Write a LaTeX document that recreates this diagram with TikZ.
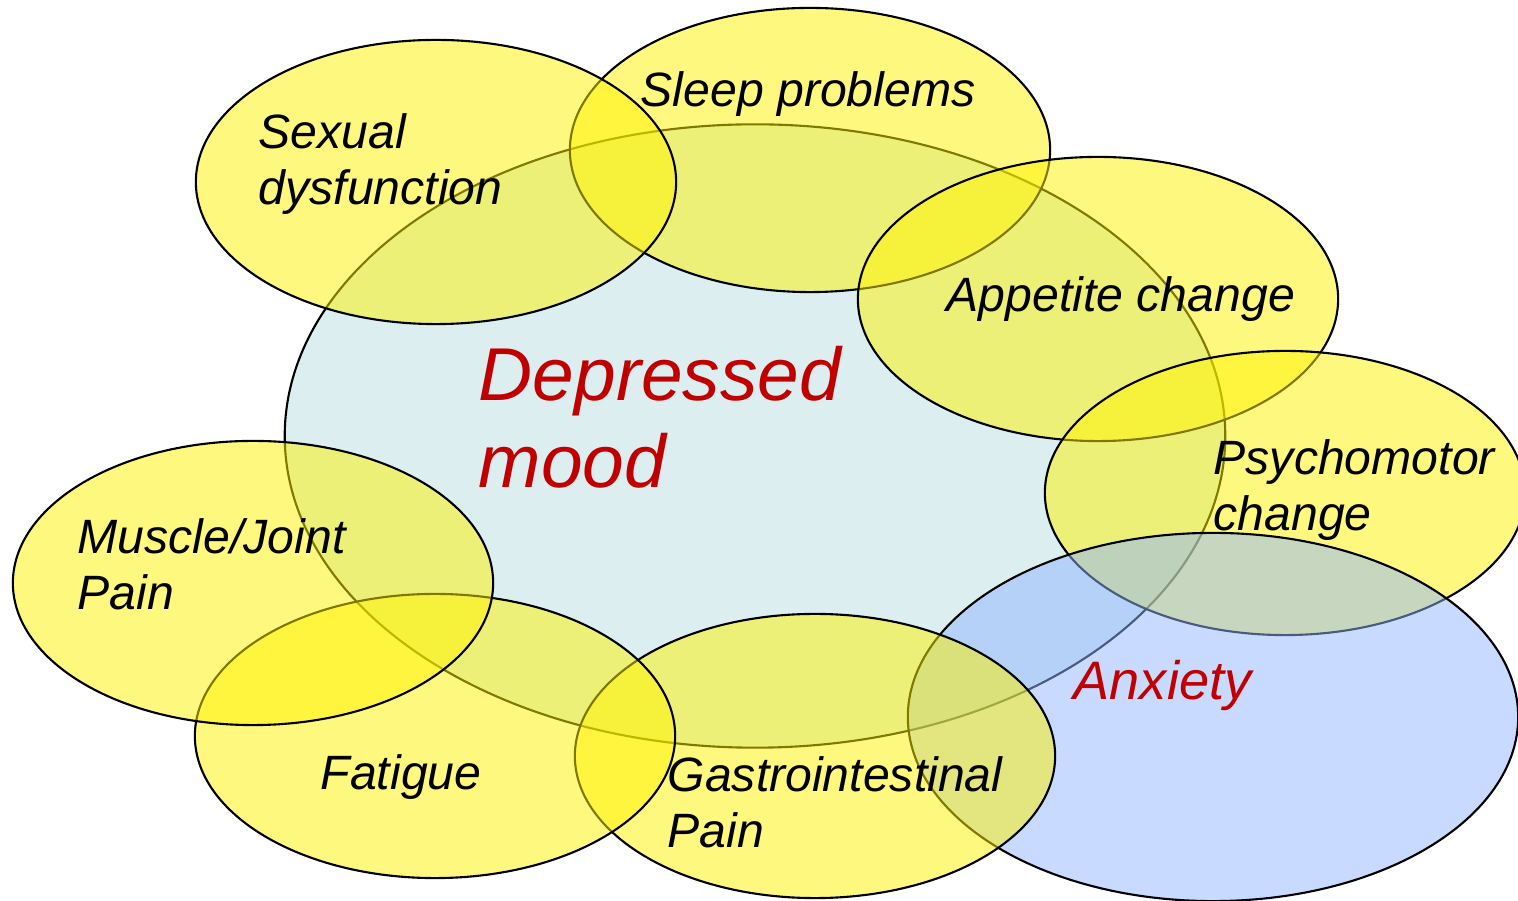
\documentclass[tikz,border=0pt]{standalone}
\usepackage{fontspec}
\setmainfont{Liberation Sans}
\usetikzlibrary{shapes.geometric}
\definecolor{moodfill}{RGB}{220,238,240}
\definecolor{anxfill}{RGB}{145,181,255}
\definecolor{moodred}{RGB}{192,0,0}
\begin{document}
\begin{tikzpicture}[x=0.01cm, y=-0.01cm]
\tikzset{bulle/.style={draw, ellipse, inner sep=0pt, line width=0.6pt, minimum width=4.8cm, minimum height=2.84cm, fill=yellow, fill opacity=0.5}}
\tikzset{etiquette/.style={anchor=base west, inner sep=0pt, align=left, font=\itshape\fontsize{13.7}{16.2}\selectfont}}
\useasboundingbox (0,0) rectangle (1518,901);
\clip (0,0) rectangle (1518,901);
\node[draw, ellipse, inner sep=0pt, line width=0.6pt, fill=moodfill, minimum width=9.4cm, minimum height=6.23cm] (humeur) at (755,436) {};
\node[bulle] (sommeil) at (810,150) {};
\node[bulle] (sexuel) at (436,182) {};
\node[bulle] (appetit) at (1098,299) {};
\node[bulle] (psycho) at (1285,493) {};
\node[bulle, fill=anxfill, minimum width=6.1cm, minimum height=3.68cm] (anxiete) at (1213,717) {};
\node[bulle] (gastro) at (815,756) {};
\node[bulle] (fatigue) at (435,736) {};
\node[bulle] (muscle) at (253,583) {};
% texte (base = derniere ligne)
\node[etiquette] (tsexuel) at (258,205) {Sexual\\dysfunction};
\node[etiquette] (tsommeil) at (640,107) {Sleep problems};
\node[etiquette] (tappetit) at (946,312) {Appetite change};
\node[etiquette] (tpsycho) at (1213,531) {Psychomotor\\change};
\node[etiquette, text=moodred, font=\itshape\fontsize{21.3}{25}\selectfont] (thumeur) at (478,488) {Depressed\\mood};
\node[etiquette] (tmuscle) at (77,610) {Muscle/Joint\\Pain};
\node[etiquette] (tfatigue) at (320,790) {Fatigue};
\node[etiquette] (tgastro) at (667,848) {Gastrointestinal\\Pain};
\node[etiquette, text=moodred, font=\itshape\fontsize{15.4}{18}\selectfont] (tanxiete) at (1073,700) {Anxiety};
\end{tikzpicture}
\end{document}
